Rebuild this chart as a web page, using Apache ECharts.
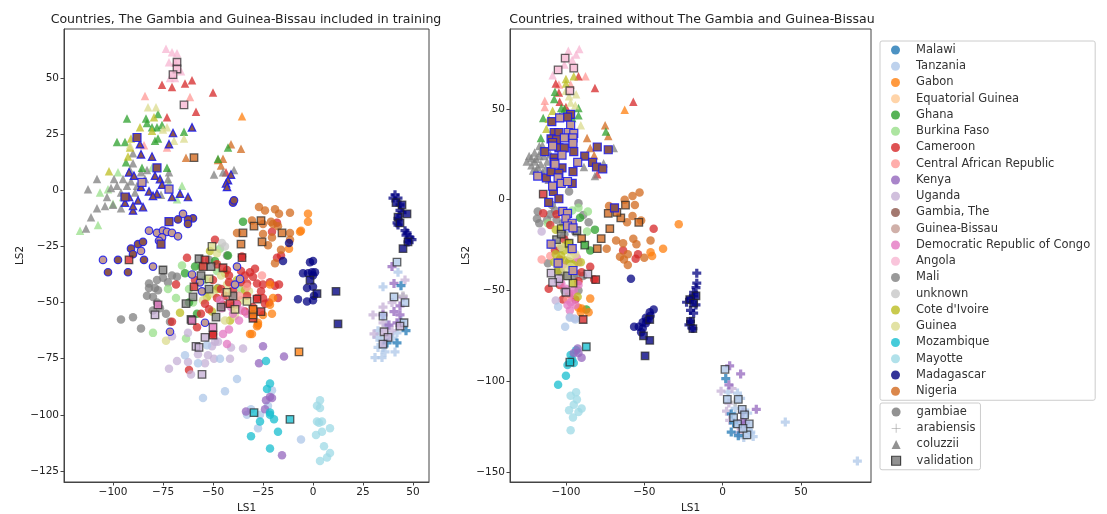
<!DOCTYPE html>
<html><head><meta charset="utf-8">
<script src="https://cdn.jsdelivr.net/npm/echarts@6/dist/echarts.min.js"></script>
<style>html,body{margin:0;padding:0;background:#fff}#c{width:1107px;height:514px;filter:blur(0.35px)}</style>
</head><body><div id="c"></div>
<script>
const countries=['Malawi','Tanzania','Gabon','Equatorial Guinea','Ghana','Burkina Faso','Cameroon','Central African Republic','Kenya','Uganda','Gambia, The','Guinea-Bissau','Democratic Republic of Congo','Angola','Mali','unknown',"Cote d'Ivoire",'Guinea','Mozambique','Mayotte','Madagascar','Nigeria'];
const colors=['#1f77b4','#aec7e8','#ff7f0e','#ffbb78','#2ca02c','#98df8a','#d62728','#ff9896','#9467bd','#c5b0d5','#8c564b','#c49c94','#e377c2','#f7b6d2','#7f7f7f','#c7c7c7','#bcbd22','#dbdb8d','#17becf','#9edae5','#000080','#d2691e'];
const species=['gambiae','arabiensis','coluzzii','validation'];
const xTicksL=[-100,-75,-50,-25,0,25,50], yTicksL=[-125,-100,-75,-50,-25,0,25,50];
const xTicksR=[-100,-50,0,50], yTicksR=[-150,-100,-50,0,50];

/* LEFT PANEL: c = gambiae circle, a = arabiensis plus, t = coluzzii triangle, v = validation square */
const L_Angola_t=[[-73.5,63],[-70.5,61.4],[-68,61],[-72,57],[-69,57],[-66,53],[-71.5,50],[-69,50]];
const L_Angola_v=[[-68,57],[-68,54],[-70,51.5],[-64.5,38]];
const L_CAR_t=[[-84,42],[-61.5,41.5],[-84.5,20],[-73,19]];
const L_Cameroon_t=[[-75.5,47],[-70.5,46],[-64,47.5],[-60.5,49],[-50,43.5],[-58.5,35],[-73,32.5],[-43.5,8]];
const L_Gabon_t=[[-35.5,33]];
const L_Nigeria_t=[[-63.5,14.5],[-41,20.5],[-36,18.5],[-45,14],[-47.5,13.5],[-46,11]];
const L_Nigeria_v=[[-59.5,14.5],[-26,-13.5],[-29.5,-16],[-15.5,-19],[-25.5,-23],[-35,-19],[-36,-24]];
const L_Ghana_t=[[-93,32],[-83.5,32],[-83,30],[-78,28],[-80.5,28],[-75.5,29],[-77.5,34],[-98,21.5],[-94,21.5],[-77.5,23],[-79,22],[-64.5,26],[-93.5,12.5],[-85.5,10],[-73,10],[-42.5,19],[-47.5,14]];
const L_Cote_t=[[-79.5,32.5],[-86.5,28],[-80.5,26.5],[-91,23],[-91.5,19],[-92.5,15],[-102,8.5]];
const L_Guinea_t=[[-82.5,37],[-78.5,37],[-73,28],[-64.5,23],[-69.5,22],[-91.5,20],[-75,27]];
const L_Burkina_t=[[-97.5,8],[-65.5,2],[-80.5,10],[-106.5,-1],[-102.5,0.5],[-116.5,-18],[-107.5,-15.5],[-95,-3],[-72,3],[-68,-4],[-100,-6]];
const L_Mali_t=[[-112.5,0.5],[-108,5],[-99.5,5],[-90,16.5],[-90,12],[-91.5,9],[-83,9],[-72.5,5],[-49.5,7],[-39.5,9],[-45,8],[-113.5,-17],[-111,-12],[-108,-8],[-104,-7],[-100,-6.5],[-103,-3],[-96,-1],[-93,2],[-98,2],[-95,5],[-91,4],[-88,2],[-96,-8],[-101,1],[-89,-1],[-86,8],[-84,5],[-76,-2],[-72,8]];
const L_Gambia_t=[[-70,25.5],[-60.5,28],[-72,20.5],[-86.5,20.5],[-86,16],[-80.5,15],[-92,8],[-89.5,6.5],[-79,6.5],[-76.5,5],[-86,1.5],[-75.5,2.5],[-82,-0.5],[-78,-1.5],[-80,-2.5],[-66.5,-1.5],[-70.5,-3],[-62.5,-3],[-41,7],[-42.5,4.5],[-43.5,3],[-43,1.5],[-94,-5.5],[-90,-9],[-87.5,-4.5],[-85,-7.5],[-90,-7],[-92,-3]];
const L_Gambia_c=[[-40,-5.5],[-39.5,-4.5],[-67.5,-13],[-60,-12.5],[-62.5,-13],[-62.5,-15],[-87.5,-24],[-85,-23],[-91,-26],[-90,-28.5],[-97.5,-31],[-102.5,-36.5],[-92.5,-36.5],[-84.5,-31]];
const L_Gambia_v=[[-88,23.5],[-78,10],[-94,-3],[-72,-14],[-76,-24]];
const L_GB_c=[[-65,-10.5],[-82,-18],[-78,-19],[-75,-18],[-73,-18.5],[-70.5,-19],[-75.5,-21],[-67.5,-20.5],[-77,-22.5],[-86,-27],[-105,-31],[-80,-34],[-60.5,-37.5],[-55.5,-45],[-38,-34],[-36.5,-39.5],[-39,-42],[-71.5,-63],[-54,-59],[-56.5,-41]];
const L_GB_v=[[-72,0.5],[-85.5,3.5]];
const L_Mali_c=[[-82,-41.5],[-78,-40],[-75,-39],[-72.5,-41],[-70.5,-38],[-68,-38.5],[-82,-43.5],[-79,-43.5],[-77.5,-44.5],[-83,-47],[-80,-47.5],[-78,-50],[-80,-53.5],[-76.5,-52.5],[-73.5,-55],[-71.5,-58.5],[-96,-57.5],[-90,-56.5],[-86,-61.5],[-47.5,-43.5],[-43,-29],[-52,-31]];
const L_Mali_v=[[-75,-35.5],[-57,-30.5],[-51,-34],[-56,-38],[-60,-47.5],[-63.5,-50.5],[-46,-52],[-48.5,-56.5],[-61,-57.5],[-52,-44],[-40,-47]];
const L_Cameroon_c=[[-63,-30],[-49,-22],[-35.5,-29.5],[-68.5,-42],[-59,-40],[-50,-40],[-54,-50.5],[-43,-35.5],[-31.5,-36.5],[-28,-41.5],[-25,-42],[-24,-50.5],[-38,-50.5],[-40,-44.5],[-46,-44],[-28,-48],[-33,-41.5],[-30,-38.5],[-58,-61],[-70.5,-58.5],[-45,-51],[-52,-53],[-50,-64],[-18,-14.5],[-20.5,-18.5],[-18,-30],[-16,-29],[-21.5,-41],[-19,-42.5],[-17,-42],[-25,-48],[-17.5,-48],[-22,-50],[-33,-47],[-42,-41],[-48,-33],[-36,-36],[-30,-52],[-34,-54],[-62,-80],[-36,-41],[-29,-35],[-44,-47],[-48,-48],[-56,-55],[-42,-38],[-34,-38],[-26,-45]];
const L_Cameroon_v=[[-54,-31],[-59.5,-43],[-92,-31],[-45,-34.5],[-41.5,-50.5],[-28,-48.5],[-26,-54],[-55,-34],[-35.5,-30],[-50,-64.5],[-30,-57]];
const L_Burkina_c=[[-65.5,-33.5],[-72.5,-44],[-68.5,-48],[-80,-63.5],[-63.5,-66],[-46.5,-26],[-60,-50],[-54,-40],[-36,-44],[-56,-34],[-62,-44],[-48,-36]];
const L_Ghana_c=[[-64,-37],[-58,-55],[-35,-14],[-49,-31.5],[-42.5,-29],[-62,-50],[-59,-34]];
const L_Cote_c=[[-51.5,-27],[-44,-37],[-34,-44.5],[-40,-51.5],[-41.5,-58],[-50.5,-54],[-66.5,-54.5],[-53,-47.5],[-38,-40],[-48,-44]];
const L_Guinea_c=[[-73.5,-67],[-48,-28],[-55,-49],[-44,-58],[-36,-49],[-32,-45],[-43,-42],[-50,-46],[-39,-56],[-46,-38]];
const L_Guinea_v=[[-50.5,-25],[-52,-39.5],[-43,-45.5],[-33,-49.5],[-39,-53]];
const L_Gabon_c=[[-31.5,-64],[-27.5,-60],[-21.5,-42],[-20,-48],[-21.5,-51],[-20.5,-55],[-25,-55.5],[-27.5,-59],[-28,-60.5],[-30.5,-64],[-2.5,-10.5],[-2.5,-14],[-6,-18],[-6.5,-18.5],[-12,-26]];
const L_Gabon_v=[[-7,-72],[-30,-55.5],[-30,-53]];
const L_Nigeria_c=[[-27,-7.5],[-24,-9],[-19,-8.5],[-17,-10.5],[-11.5,-10],[-30.5,-13.5],[-25,-15],[-20,-15],[-25,-19.5],[-20.5,-21],[-11.5,-19],[-11.5,-22],[-22.5,-24.5],[-16,-26.5],[-19,-32.5],[-38,-19],[-17.5,-16],[-21,-14]];
const L_Madagascar_c=[[-1.5,-32],[0,-31.5],[-15,-31.5],[-5,-37],[-2.5,-37],[-0.5,-36.5],[1,-36.5],[0,-38],[-3,-43.5],[0,-43],[0.5,-47],[-7.5,-48.5],[-3,-49.5],[0,-49],[-12,-23.5]];
const L_Madagascar_v=[[-1.5,-40],[2,-46],[11.5,-45],[12.5,-59.5],[41.5,-5.5],[44.5,-6.5],[47,-10.5],[42.5,-12],[43.5,-14.5],[47.5,-23],[45,-26]];
const L_Madagascar_a=[[41,-2],[42.5,-3.5],[40,-3.5],[43.5,-6.5],[43.5,-9],[44.5,-10],[42.5,-12.5],[42,-14.5],[42.5,-15.5],[46,-18],[47,-19],[48.5,-21],[47.5,-23],[49.5,-22],[46.5,-20]];
const L_Tanzania_a=[[42.5,-36.5],[35,-43],[32.5,-62.5],[32,-65.5],[34.5,-67],[32.5,-70],[41,-72],[42,-63.5],[35,-70],[38,-65],[31,-74.5],[34.5,-74.5],[40,-66],[37,-60],[44,-58],[36,-72]];
const L_Tanzania_v=[[42,-32],[40.5,-47.5],[46,-50],[35,-56],[45.5,-59]];
const L_Uganda_v=[[35.5,-63],[37.5,-65.5],[35,-68.5],[43.5,-60.5],[-55.5,-82],[-58.5,-69.5],[-57,-70],[-79,-55.5],[-54,-65.5]];
const L_Uganda_a=[[30,-55.5],[30.5,-64],[39.5,-62.5],[35,-59],[46,-40],[39.5,-50],[35,-52]];
const L_Kenya_a=[[39.5,-34],[40.5,-41.5],[45,-47.5],[43.5,-51.5],[40.5,-54],[43.5,-55.5],[35,-55.5],[42,-59],[38,-60]];
const L_Malawi_a=[[44,-42.5],[46.5,-62.5],[42,-68],[37,-68]];
const L_unknown_a=[[45,-47]];
const L_Uganda_c=[[-35,-70.5],[-49,-67.5],[-50.5,-69.5],[-52.5,-73.5],[-49.5,-75],[-41.5,-75],[-54,-77],[-68,-76],[-72,-79.5],[-61,-82],[-62.5,-76.5],[-57.5,-73],[-62.5,-63.5],[-70.5,-65],[-47.5,-67.5],[-41,-70]];
const L_Tanzania_c=[[-64,-73.5],[-57.5,-77],[-46.5,-75],[-38,-84],[-44,-89.5],[-55,-92.5],[-20.5,-89],[-6,-111],[-31,-97.5],[-33,-100],[-26.5,-100],[-27.5,-106],[-22.5,-96],[-53,-69]];
const L_Kenya_c=[[-25,-69.5],[-14.5,-74],[-27,-77],[-23.5,-93.5],[-21.5,-92],[-20.5,-92.5],[-24,-97.5],[-33.5,-98.5],[-15.5,-118]];
const L_Moz_c=[[-23.5,-76],[-21.5,-86],[-23,-88.5],[-21.5,-99],[-21.5,-100],[-19.5,-102],[-26.5,-103],[-17.5,-107.5],[-31,-109.5],[-21.5,-115]];
const L_Moz_v=[[-29.5,-99],[-11.5,-102]];
const L_Mayotte_c=[[3.5,-93.5],[2,-96],[3.5,-97],[2,-103],[4.5,-103],[3,-103.5],[4.5,-107.5],[8.5,-106],[1.5,-109],[5.5,-114],[8.5,-117],[7,-119],[3.5,-120.5]];
const L_DRC_c=[[-43,-68.5],[-45,-64],[-46.5,-49],[-38,-51],[-35.5,-53.5],[-40,-55],[-45.5,-52.5],[-41,-52],[-33,-55],[-37,-58],[-42,-62]];
const L_DRC_v=[[-60.5,-58],[-50,-61],[-77.5,-51]];
const L_CAR_c=[[-25.5,-38],[-33,-43],[-37,-47],[-41,-47]];
const L_unknown_c=[[-45.5,-23.5],[-44,-25]];

/* RIGHT PANEL */
const R_Angola_t=[[-98.5,82],[-91.5,83],[-93.5,80],[-101,74.5],[-108.5,68.5],[-96,77]];
const R_Angola_v=[[-100.5,78],[-105,71.5],[-95,72.5],[-97.5,60]];
const R_Cote_t=[[-100,66.5],[-108.5,49],[-111,44.5],[-112.5,39],[-95,68],[-100,64]];
const R_Cameroon_t=[[-92,68],[-106.5,64],[-104.5,59],[-104,54],[-81.5,61.5],[-57,54],[-100,51],[-80,14]];
const R_CAR_t=[[-87.5,68],[-104.5,63.5],[-97,63.5],[-113.5,54.5],[-113.5,51]];
const R_Guinea_t=[[-98,57],[-93.5,58],[-97,53.5],[-90.5,41],[-100,60],[-94,52]];
const R_Ghana_t=[[-107,59.5],[-107.5,55.5],[-103,50.5],[-101,50],[-92,50.5],[-92,46.5],[-114.5,45],[-116,34],[-74.5,37.5],[-96,45],[-104,46]];
const R_Gabon_t=[[-62.5,49.5]];
const R_Nigeria_t=[[-75,41],[-73,35],[-86.5,34],[-84.5,28.5],[-82,24.5]];
const R_Mali_t=[[-69.5,28.5],[-88.5,18],[-76,20],[-81.5,13],[-119,22.5],[-123.5,24],[-117,29.5],[-122,19],[-116,19.5],[-125,21],[-120,26],[-121,16],[-114,24],[-118,14],[-113,17],[-115,30],[-112,21],[-117,24],[-120,21],[-115,15],[-118,18],[-110,25],[-111,11],[-122,23],[-116,27],[-119,16]];
const R_Gambia_v=[[-109,43],[-97,47],[-99,45.5],[-107.5,37],[-104.5,37],[-109.5,33.5],[-106,33],[-108.5,31.5],[-104.5,28.5],[-101,28.5],[-113.5,26.5],[-95,26.5],[-107.5,23],[-107.5,20.5],[-80,29],[-73,27.5],[-88,24],[-83,20.5],[-80.5,18],[-76.5,17],[-112.5,12],[-109.5,15.5],[-102.5,17.5],[-95.5,15.5],[-104.5,14.5],[-108,4.5],[-104.5,0.5],[-96,9],[-111,-1.5],[-69,-4.5]];
const R_GB_v=[[-104,45],[-97,41],[-98.5,37],[-95,36.5],[-101,34],[-95.5,34],[-108.5,29.5],[-95.5,31],[-102.5,24.5],[-107,19.5],[-92.5,20.5],[-118,13],[-105,12],[-103,9],[-99,10],[-108.5,7.5],[-102,-6.5],[-99,-7.5],[-100,-10.5],[-96,-13],[-99,-14.5],[-95.5,-15.5],[-109.5,-24.5],[-96,-27],[-105,-35],[-95.5,-39]];
const R_Cameroon_v=[[-114.5,3],[-81,-44],[-89,-66]];
const R_Nigeria_v=[[-62,-3],[-73,-7.5],[-65,-10],[-67.5,-7],[-53.5,-12.5],[-72,-16],[-77.5,-21.5],[-80,-27],[-90,-21.5]];
const R_Ghana_v=[[-88,-25]];
const R_Uganda_v=[[-86,-41],[-104.5,-43.5],[-108.5,-45.5],[-109.5,-40.5],[-100,-51]];
const R_Cote_v=[[-95.5,-46],[-103,-16],[-98,-24]];
const R_Mali_v=[[-106,-22],[-93,-17],[-103,-19],[-99,-42]];
const R_Nigeria_c=[[-72.5,-3.5],[-62.5,0],[-57.5,2],[-53,4],[-56,-3],[-57.5,-9],[-61,-12.5],[-52,-11.5],[-68,-22.5],[-63.5,-24],[-57,-21.5],[-55,-24.5],[-46,-22.5],[-74,-27],[-60.5,-30],[-65.5,-31.5],[-63,-33],[-50,-32],[-60.5,-36]];
const R_Gabon_c=[[-28,-13.5],[-38,-27],[-46,-29],[-45,-31],[-84.5,-54.5],[-92,-59.5],[-90,-60],[-85.5,-62],[-90.5,-62]];
const R_Cameroon_c=[[-44,-16],[-63.5,-28],[-54,-30],[-55.5,-32.5],[-114.5,-7.5],[-84.5,-37],[-111,-49],[-82,-44],[-106,-8],[-101,-22],[-107,-28],[-92,-45],[-98,-52],[-102,-55],[-94,-55],[-110,-14],[-104,-33],[-96,-28],[-90,-40],[-104,-47]];
const R_Ghana_c=[[-81.5,-16.5],[-84.5,-28],[-87,-60.5],[-91,-10]];
const R_Burkina_c=[[-86,-6.5],[-86.5,-17.5],[-111.5,-13],[-92,-4.5],[-96,-6]];
const R_Mali_c=[[-118,-6.5],[-118.5,-10.5],[-117,-13],[-92,-2],[-85.5,-12.5],[-89,-8.5],[-107,-6],[-106,-11],[-102,-13],[-101,-19],[-98,-24],[-94,-18],[-95,-42],[-101,-50],[-92,-50],[-111.5,-35],[-89,-42],[-105,-39],[-98,4.5],[-93,-41],[-110,-8],[-104,-27],[-98,-34],[-103,-40],[-109,-3],[-112,-11]];
const R_DRC_c=[[-97.5,-61],[-100,-49],[-97,-56.5],[-93,-32],[-103,-46],[-92,-34.5],[-102,-36],[-95,-50],[-96,-52],[-99,-58],[-94,-58],[-92,-47]];
const R_CAR_c=[[-115.5,-33],[-110,-31],[-99,-55]];
const R_Cote_c=[[-106.5,-16.5],[-100,-25],[-100,-33.5],[-97,-34.5],[-90.5,-34.5],[-109.5,-25],[-103,-31],[-106.5,-30],[-92.5,-53.5],[-107.5,-34.5],[-105,-39],[-95,-36],[-101,-28]];
const R_Guinea_c=[[-103,-26],[-97,-31],[-94,-30],[-101,-38],[-107,-24],[-100,-42],[-97,-37]];
const R_Uganda_c=[[-115.5,-17.5],[-106.5,-55.5],[-97.5,-64.5],[-94.5,-65.5],[-105,-45]];
const R_Tanzania_c=[[-105,-59],[-100.5,-70],[-97.5,-65],[-94,-66]];
const R_Madagascar_c=[[-58.5,-43.5],[-44,-60.5],[-46.5,-62],[-49,-65],[-51,-67.5],[-53.5,-70],[-56.5,-70],[-51,-71],[-48,-66.5],[-46,-64],[-49,-68],[-52,-73]];
const R_Madagascar_v=[[-46.5,-66],[-50.5,-75],[-46.5,-77.5],[-49.5,-86],[-17,-53],[-21,-55],[-18.5,-57],[-20.5,-67],[-19,-71]];
const R_Madagascar_a=[[-16.5,-40.5],[-16.5,-46],[-17,-48.5],[-18.5,-51],[-18.5,-53],[-20.5,-54.5],[-23,-56.5],[-17,-58],[-20.5,-61],[-18.5,-62.5],[-20.5,-67],[-21.5,-69],[-19,-71]];
const R_Tanzania_v=[[1.5,-93.5],[3,-110],[10,-110],[7,-120],[17,-123.5],[15.5,-129.5],[12.5,-115.5],[14,-118.5],[9.5,-123.5],[13,-126]];
const R_Kenya_a=[[4.5,-91.5],[11.5,-96],[4,-102],[21.5,-115.5],[12.5,-122],[14.5,-123],[13,-117]];
const R_Uganda_a=[[-1,-105.5],[6,-104],[2.5,-116.5],[4,-112],[4.5,-121.5],[10,-128.5],[12,-126]];
const R_Tanzania_a=[[3.5,-106],[9.5,-106.5],[11.5,-109.5],[16,-117.5],[16.5,-127],[19.5,-130.5],[13.5,-131],[40,-122.5],[86,-144],[8,-115],[18,-128],[11,-125]];
const R_Malawi_a=[[2,-98.5],[5.5,-118],[5.5,-128],[10,-130],[7,-123]];
const R_unknown_a=[[8,-111.5]];
const R_Moz_c=[[-97,-85.5],[-93.5,-83],[-105,-102],[-100,-97],[-96,-88],[-99,-91],[-95,-90]];
const R_Moz_v=[[-87,-81],[-97.5,-89.5]];
const R_Kenya_c=[[-92.5,-82],[-92,-84.5],[-95,-84.5],[-90,-87]];
const R_Mayotte_c=[[-93.5,-106],[-95,-113],[-92,-117],[-97,-127],[-90,-115],[-95.5,-120],[-98,-116],[-93,-110],[-97,-108]];

const layers={
 left:[['Mali','c',L_Mali_c],['Burkina Faso','c',L_Burkina_c],['Ghana','c',L_Ghana_c],["Cote d'Ivoire",'c',L_Cote_c],['Guinea','c',L_Guinea_c],['Cameroon','c',L_Cameroon_c],['Central African Republic','c',L_CAR_c],['Gabon','c',L_Gabon_c],['Nigeria','c',L_Nigeria_c],['Madagascar','c',L_Madagascar_c],['Uganda','c',L_Uganda_c],['Tanzania','c',L_Tanzania_c],['Kenya','c',L_Kenya_c],['Mozambique','c',L_Moz_c],['Mayotte','c',L_Mayotte_c],['Democratic Republic of Congo','c',L_DRC_c],['unknown','c',L_unknown_c],['Gambia, The','c',L_Gambia_c],['Guinea-Bissau','c',L_GB_c],
  ['Tanzania','a',L_Tanzania_a],['Uganda','a',L_Uganda_a],['Kenya','a',L_Kenya_a],['Malawi','a',L_Malawi_a],['unknown','a',L_unknown_a],['Madagascar','a',L_Madagascar_a],
  ['Angola','t',L_Angola_t],['Central African Republic','t',L_CAR_t],['Cameroon','t',L_Cameroon_t],['Gabon','t',L_Gabon_t],['Nigeria','t',L_Nigeria_t],['Burkina Faso','t',L_Burkina_t],['Mali','t',L_Mali_t],['Ghana','t',L_Ghana_t],["Cote d'Ivoire",'t',L_Cote_t],['Guinea','t',L_Guinea_t],['Gambia, The','t',L_Gambia_t],
  ['Angola','v',L_Angola_v],['Nigeria','v',L_Nigeria_v],['Mali','v',L_Mali_v],['Cameroon','v',L_Cameroon_v],['Guinea','v',L_Guinea_v],['Gabon','v',L_Gabon_v],['Madagascar','v',L_Madagascar_v],['Tanzania','v',L_Tanzania_v],['Uganda','v',L_Uganda_v],['Mozambique','v',L_Moz_v],['Democratic Republic of Congo','v',L_DRC_v],['Gambia, The','v',L_Gambia_v],['Guinea-Bissau','v',L_GB_v]],
 right:[['Mali','c',R_Mali_c],['Burkina Faso','c',R_Burkina_c],['Ghana','c',R_Ghana_c],['Cameroon','c',R_Cameroon_c],['Central African Republic','c',R_CAR_c],['Gabon','c',R_Gabon_c],['Nigeria','c',R_Nigeria_c],['Democratic Republic of Congo','c',R_DRC_c],['Uganda','c',R_Uganda_c],['Tanzania','c',R_Tanzania_c],["Cote d'Ivoire",'c',R_Cote_c],['Guinea','c',R_Guinea_c],['Madagascar','c',R_Madagascar_c],['Mayotte','c',R_Mayotte_c],['Mozambique','c',R_Moz_c],['Kenya','c',R_Kenya_c],
  ['Tanzania','a',R_Tanzania_a],['Uganda','a',R_Uganda_a],['Kenya','a',R_Kenya_a],['Malawi','a',R_Malawi_a],['unknown','a',R_unknown_a],['Madagascar','a',R_Madagascar_a],
  ['Angola','t',R_Angola_t],['Central African Republic','t',R_CAR_t],['Cameroon','t',R_Cameroon_t],['Gabon','t',R_Gabon_t],['Nigeria','t',R_Nigeria_t],['Mali','t',R_Mali_t],['Ghana','t',R_Ghana_t],["Cote d'Ivoire",'t',R_Cote_t],['Guinea','t',R_Guinea_t],
  ['Angola','v',R_Angola_v],['Cameroon','v',R_Cameroon_v],['Nigeria','v',R_Nigeria_v],['Ghana','v',R_Ghana_v],['Uganda','v',R_Uganda_v],["Cote d'Ivoire",'v',R_Cote_v],['Mali','v',R_Mali_v],['Madagascar','v',R_Madagascar_v],['Tanzania','v',R_Tanzania_v],['Mozambique','v',R_Moz_v],['Gambia, The','v',R_Gambia_v],['Guinea-Bissau','v',R_GB_v]]
};

const FONT='"DejaVu Sans"';
const PLUS='path://M32 0H68V32H100V68H68V100H32V68H0V32H32Z';
const THINPLUS='path://M47 0H53V47H100V53H53V100H47V53H0V47H47Z';
const symbolOf={c:'circle',a:PLUS,t:'triangle',v:'rect'};
const sizeOf={c:8.5,a:9,t:8.5,v:7.5};
const blueSizeOf={c:7.5,t:7.5,v:8};
const colorOf=n=>colors[countries.indexOf(n)];
const blueEdge=n=>n==='Gambia, The'||n==='Guinea-Bissau';
function hexA(h,a){const v=parseInt(h.slice(1),16);return `rgba(${v>>16},${(v>>8)&255},${v&255},${a})`;}

const series=[];
[['left',0],['right',1]].forEach(([k,idx])=>{
  layers[k].forEach(([name,mk,data])=>{
    const blue=blueEdge(name);
    const edge=blue?'rgba(25,25,235,0.85)':(mk==='v'?'rgba(35,35,35,0.7)':'transparent');
    const size=blue?blueSizeOf[mk]:sizeOf[mk];
    series.push({type:'scatter',name,xAxisIndex:idx,yAxisIndex:idx,data,symbol:symbolOf[mk],symbolSize:size,z:mk==='v'?5:3,silent:true,animation:false,
      itemStyle:{color:hexA(colorOf(name),blue?1:(mk==='v'?0.78:0.75)),borderColor:edge,borderWidth:blue?1.2:(mk==='v'?1.3:0),opacity:1}});
  });
});
countries.forEach(n=>series.push({type:'scatter',name:n,xAxisIndex:0,yAxisIndex:0,data:[],itemStyle:{color:colorOf(n)}}));
species.forEach(n=>series.push({type:'scatter',name:n,xAxisIndex:0,yAxisIndex:0,data:[],itemStyle:{color:'#777'}}));

const axisBase=(g,min,max,ticks,name,gap)=>({type:'value',gridIndex:g,min,max,name,nameLocation:'middle',nameGap:gap,
  nameTextStyle:{fontFamily:FONT,fontSize:10.5,color:'#222'},splitLine:{show:false},
  axisLine:{show:true,onZero:false,lineStyle:{color:'#444',width:1}},
  axisTick:{show:true,length:3.5,customValues:ticks,lineStyle:{color:'#444'}},
  axisLabel:{customValues:ticks,fontFamily:FONT,fontSize:10.5,color:'#222',margin:5,formatter:v=>String(v).replace('-','\u2212')}});

const legendText={fontFamily:FONT,fontSize:11.5,color:'#333',lineHeight:12,padding:[0,0,0,11]};
const option={
 animation:false,backgroundColor:'#fff',
 title:[{text:'Countries, The Gambia and Guinea-Bissau included in training',left:241,top:8,textAlign:'center',textStyle:{fontFamily:FONT,fontSize:12.55,fontWeight:'normal',color:'#222'}},
        {text:'Countries, trained without The Gambia and Guinea-Bissau',left:687,top:8,textAlign:'center',textStyle:{fontFamily:FONT,fontSize:12.55,fontWeight:'normal',color:'#222'}}],
 grid:[{left:64,right:678,top:29,bottom:32,outerBoundsMode:'none',show:true,borderColor:'#444',borderWidth:1,backgroundColor:'#fff'},
       {left:510,right:236,top:29,bottom:32,outerBoundsMode:'none',show:true,borderColor:'#444',borderWidth:1,backgroundColor:'#fff'}],
 xAxis:[axisBase(0,-124.5,58,xTicksL,'LS1',19),axisBase(1,-135.7,94.7,xTicksR,'LS1',19)],
 yAxis:[axisBase(0,-129.9,71.8,yTicksL,'LS2',32),axisBase(1,-155.5,94,yTicksR,'LS2',32)],
 legend:[{orient:'vertical',left:880,top:41,selectedMode:false,itemWidth:9,itemHeight:9,itemGap:4.25,padding:[3,5,3,11],
   backgroundColor:'#fff',borderColor:'#ccc',borderWidth:1,borderRadius:2,textStyle:legendText,
   data:countries.map(n=>({name:n,icon:'circle',itemStyle:{color:hexA(colorOf(n),0.8),borderWidth:0}}))},
  {orient:'vertical',left:880,top:403,selectedMode:false,itemWidth:9,itemHeight:9,itemGap:4.25,padding:[3,5,3,11],
   backgroundColor:'#fff',borderColor:'#ccc',borderWidth:1,borderRadius:2,textStyle:legendText,
   data:[{name:'gambiae',icon:'circle',itemStyle:{color:'#777',borderWidth:0}},
         {name:'arabiensis',icon:THINPLUS,itemStyle:{color:'#777',borderWidth:0}},
         {name:'coluzzii',icon:'triangle',itemStyle:{color:'#777',borderWidth:0}},
         {name:'validation',icon:'rect',itemStyle:{color:'#777',borderColor:'#222',borderWidth:1.2}}]}],
 series
};
echarts.init(document.getElementById('c'),null,{renderer:'canvas'}).setOption(option);
</script></body></html>
